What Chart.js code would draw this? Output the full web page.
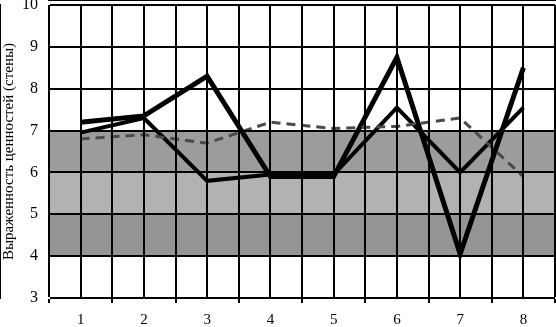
<!DOCTYPE html>
<html>
<head>
<meta charset="utf-8">
<script src="https://cdn.jsdelivr.net/npm/chart.js@4"></script>
<style>
  html, body { margin: 0; padding: 0; background: #fff; }
  #wrap { width: 556px; height: 327px; }
</style>
</head>
<body>
<div id="wrap"><canvas id="chart" width="556" height="327"></canvas></div>
<script>
const categories = [1, 2, 3, 4, 5, 6, 7, 8];
const seriesA = [7.2, 7.35, 8.3, 5.9, 5.9, 8.75, 4.05, 8.5];
const seriesB = [6.95, 7.3, 5.8, 5.95, 5.95, 7.55, 6.0, 7.55];
const seriesC = [6.8, 6.9, 6.7, 7.2, 7.05, 7.1, 7.3, 5.9];
const bandEdges = [4, 5, 6, 7];
const bandShades = ["#959595", "#b2b2b2", "#9c9c9c"];
const yTitle = "Выраженность ценностей (стены)";

const byId = (id) => document.getElementById(id);
const toPoints = (vals) => vals.map((v, i) => ({ x: categories[i], y: v }));
const xMin = categories[0] - 0.5;
const xMax = categories[categories.length - 1] + 0.5;

const bandSets = bandShades.map((shade, i) => ({
  data: [{ x: xMin, y: bandEdges[i + 1] }, { x: xMax, y: bandEdges[i + 1] }],
  borderWidth: 0,
  pointRadius: 0,
  backgroundColor: shade,
  fill: { value: bandEdges[i] },
  order: 10,
}));

const lineSet = (vals, color, width, dash) => ({
  data: toPoints(vals),
  borderColor: color,
  borderWidth: width,
  borderDash: dash || [],
  pointRadius: 0,
  tension: 0,
  fill: false,
  order: 0,
});

new Chart(byId("chart"), {
  type: "line",
  data: {
    datasets: [
      ...bandSets,
      lineSet(seriesC, "#4a4a4a", 3, [9, 6]),
      lineSet(seriesB, "#000", 4),
      lineSet(seriesA, "#000", 5),
    ],
  },
  options: {
    responsive: false,
    animation: false,
    layout: { padding: { top: 5, right: 1, left: 0, bottom: 0 } },
    plugins: { legend: { display: false }, tooltip: { enabled: false } },
    scales: {
      x: {
        type: "linear",
        min: xMin,
        max: xMax,
        grid: {
          z: 1,
          color: "#000",
          lineWidth: 2,
          tickLength: 5,
          tickColor: (c) => (c.tick && c.tick.value % 1 !== 0 ? "#000" : "rgba(0,0,0,0)"),
        },
        border: { color: "#000", width: 2 },
        ticks: {
          stepSize: 0.5,
          autoSkip: false,
          maxRotation: 0,
          color: "#000",
          font: { family: "Liberation Serif", size: 15 },
          padding: 8,
          callback: (v) => (v % 1 === 0 ? String(v) : ""),
        },
        afterFit: (s) => { s.height = 29; s.paddingLeft = 0; s.paddingRight = 0; },
      },
      y: {
        min: 3,
        max: 10,
        grid: { z: 1, color: "#000", lineWidth: 2, drawTicks: false },
        border: { color: "#000", width: 2 },
        ticks: { stepSize: 1, color: "#000", font: { family: "Liberation Serif", size: 16 }, padding: 11 },
        title: { display: true, text: yTitle, color: "#000", font: { family: "Liberation Serif", size: 15 }, padding: 0 },
        afterFit: (s) => { s.width = 49; s.paddingTop = 0; s.paddingBottom = 0; },
      },
    },
  },
});
</script>
</body>
</html>
